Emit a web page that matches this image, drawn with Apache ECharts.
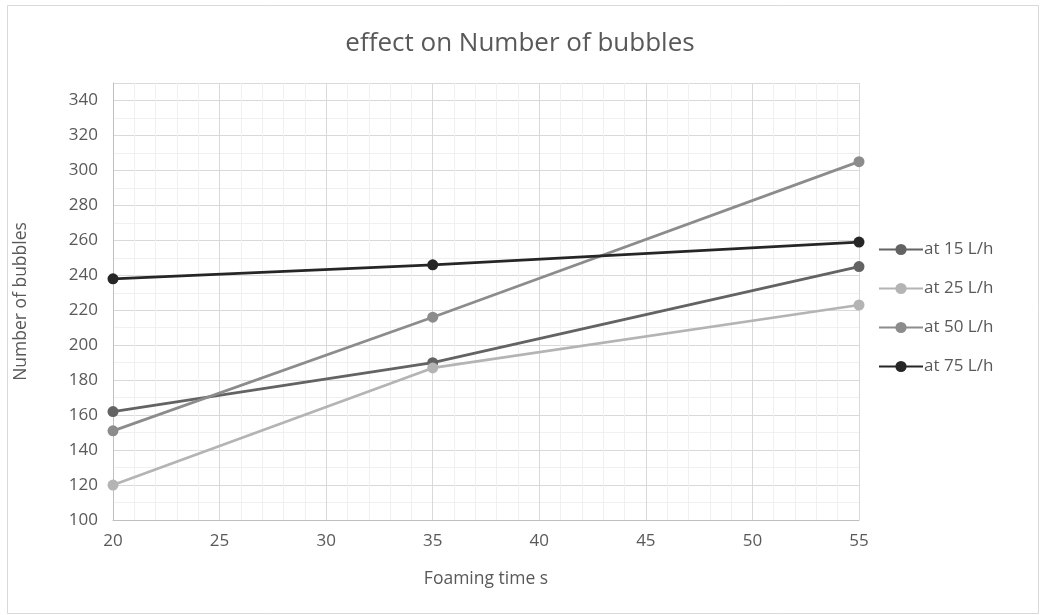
<!DOCTYPE html>
<html>
<head>
<meta charset="utf-8">
<title>effect on Number of bubbles</title>
<script src="https://cdn.jsdelivr.net/npm/echarts@6/dist/echarts.min.js"></script>
<style>
  html, body { margin: 0; padding: 0; background: #ffffff; }
  #chart { width: 1040px; height: 615px; }
</style>
</head>
<body>
<div id="chart"></div>
<script>
// Foaming time (s) on the x axis
const foamingTime = [20, 35, 55];

// Number of bubbles for each gas flow rate
const flow15 = [162, 190, 245];
const flow25 = [120, 187, 223];
const flow50 = [151, 216, 305];
const flow75 = [238, 246, 259];

const seriesNames = ['at 15 L/h', 'at 25 L/h', 'at 50 L/h', 'at 75 L/h'];
const seriesColors = ['#636363', '#b4b4b4', '#8c8c8c', '#262626'];
const seriesValues = [flow15, flow25, flow50, flow75];

const FONT = 'Open Sans';
const TEXT = '#595959';

const chart = echarts.init(document.getElementById('chart'), null, { renderer: 'canvas' });

const series = seriesNames.map((name, i) => ({
  name: name,
  type: 'line',
  data: foamingTime.map((x, j) => [x, seriesValues[i][j]]),
  symbol: 'circle',
  symbolSize: 11,
  lineStyle: { width: 2.75, color: seriesColors[i] },
  itemStyle: { color: seriesColors[i] },
  emphasis: { disabled: true },
  z: 3 + i
}));

chart.setOption({
  animation: false,
  backgroundColor: '#ffffff',
  graphic: [{
    type: 'rect',
    shape: { x: 7.5, y: 5.5, width: 1031, height: 608 },
    style: { fill: 'none', stroke: '#d9d9d9', lineWidth: 1 },
    silent: true,
    z: -10
  }],
  title: {
    text: 'effect on Number of bubbles',
    left: 'center',
    top: 26,
    textStyle: { fontFamily: FONT, fontSize: 26, fontWeight: 'normal', color: TEXT }
  },
  legend: {
    orient: 'vertical',
    left: 873,
    top: 236,
    itemWidth: 44,
    itemHeight: 14,
    itemGap: 22,
    data: seriesNames,
    textStyle: { fontFamily: FONT, fontSize: 17, color: TEXT, padding: [0, 0, 0, -4] }
  },
  grid: { left: 113, right: 181, top: 83, bottom: 95, containLabel: false },
  xAxis: {
    type: 'value',
    min: 20,
    max: 55,
    interval: 5,
    name: 'Foaming time s',
    nameLocation: 'middle',
    nameGap: 50,
    nameTextStyle: { fontFamily: FONT, fontSize: 17.5, color: TEXT },
    axisLine: { show: true, lineStyle: { color: '#bfbfbf', width: 1 } },
    axisTick: { show: false },
    axisLabel: { fontFamily: FONT, fontSize: 17, color: TEXT, margin: 13 },
    splitLine: { show: true, lineStyle: { color: '#d9d9d9', width: 1 } },
    minorTick: { show: false, splitNumber: 5 },
    minorSplitLine: { show: true, lineStyle: { color: '#f0f0f0', width: 1 } }
  },
  yAxis: {
    type: 'value',
    min: 100,
    max: 350,
    interval: 20,
    name: 'Number of bubbles',
    nameLocation: 'middle',
    nameGap: 83,
    nameTextStyle: { fontFamily: FONT, fontSize: 17.5, color: TEXT },
    axisLine: { show: true, lineStyle: { color: '#bfbfbf', width: 1 } },
    axisTick: { show: false },
    axisLabel: { fontFamily: FONT, fontSize: 17, color: TEXT, margin: 15, showMaxLabel: false },
    splitLine: { show: true, lineStyle: { color: '#d9d9d9', width: 1 } },
    minorTick: { show: false, splitNumber: 2 },
    minorSplitLine: { show: true, lineStyle: { color: '#f0f0f0', width: 1 } }
  },
  series: series
});
</script>
</body>
</html>
